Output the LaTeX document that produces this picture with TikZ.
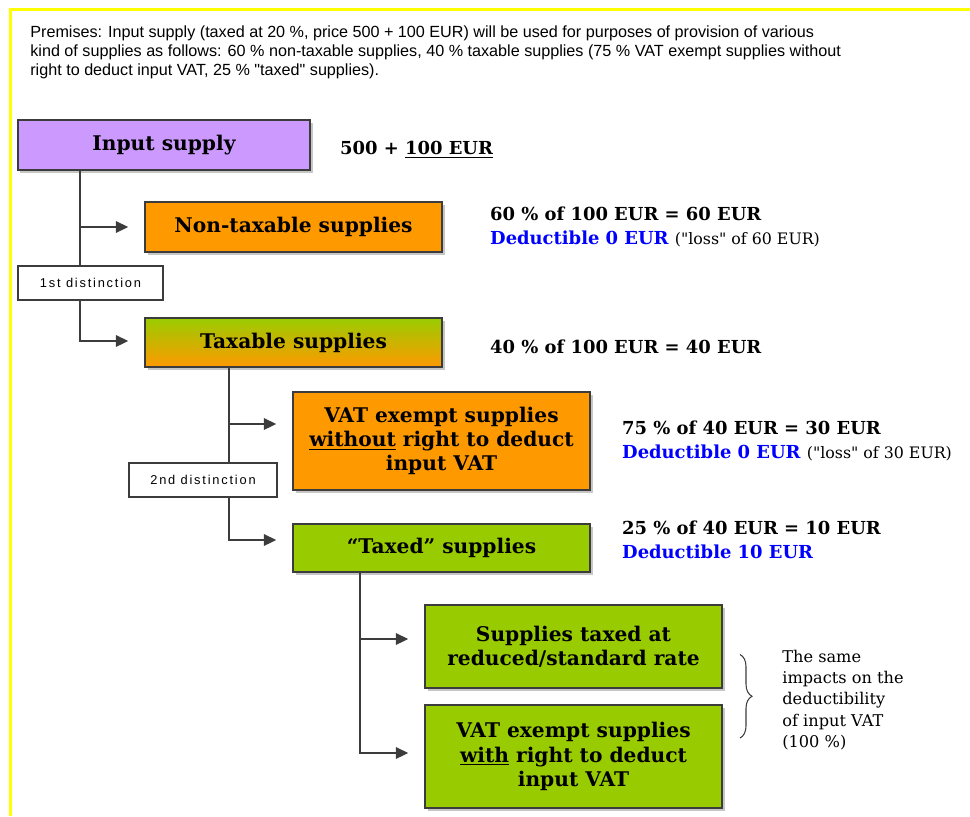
\documentclass[tikz,border=0pt]{standalone}
\usepackage{fontspec}
\setmainfont{DejaVu Serif}
\newfontfamily\premfont{Liberation Sans}
\newfontfamily\distfont[LetterSpace=14]{Liberation Sans}
\usepackage{tikz}
\usetikzlibrary{arrows.meta,positioning,shadows,decorations.pathreplacing}
\definecolor{vatpurple}{RGB}{204,153,255}
\definecolor{vatorange}{RGB}{255,153,0}
\definecolor{vatgreen}{RGB}{153,204,0}
\definecolor{vatblue}{RGB}{0,0,255}
\definecolor{vatyellow}{RGB}{255,255,0}
\definecolor{vatline}{RGB}{60,60,60}
\newcommand{\lossnote}[1]{{\mdseries\fontsize{9}{13.6}\selectfont(\textquotedbl loss\textquotedbl{} of #1)}}

\begin{document}
\begin{tikzpicture}[x=0.2mm,y=-0.2mm,
  box/.style={draw=vatline, line width=0.8pt, align=center, inner sep=1pt,
    font=\bfseries\fontsize{11.5}{13.8}\selectfont,
    drop shadow={shadow xshift=0.5mm, shadow yshift=-0.5mm, opacity=0.45}},
  distbox/.style={draw=vatline, line width=0.8pt, fill=white, inner sep=1pt,
    minimum height=6.8mm, font=\distfont\fontsize{7.3}{8}\selectfont},
  link/.style={draw=vatline, line width=1.1pt, -{Triangle[length=2.5mm,width=2.3mm]},
    shorten >=3.2mm},
  info/.style={anchor=west, align=left, font=\bfseries\fontsize{10.2}{13.6}\selectfont}]
\useasboundingbox (0,0) rectangle (970,816);
% Frame
\draw[vatyellow, line width=0.6mm] (970,9.5) -- (10.5,9.5) -- (10.5,816);
% Premises
\node[anchor=north west, align=left, inner sep=0pt,
  font=\premfont\fontsize{9.2}{10.8}\selectfont] (premises) at (30,25)
  {Premises: Input supply (taxed at 20 \%, price 500 + 100 EUR) will be used for purposes of provision of various\\
   kind of supplies as follows: 60 \% non-taxable supplies, 40 \% taxable supplies (75 \% VAT exempt supplies without\\
   right to deduct input VAT, 25 \% \textquotedbl taxed\textquotedbl{} supplies).};
% Boxes
\node[box, fill=vatpurple, minimum width=58.4mm, minimum height=10mm] (input) at (164,145) {Input supply};
\node[box, fill=vatorange, minimum width=59.4mm, minimum height=10mm] (nontax) at (293.5,227) {Non-taxable supplies};
\node[box, top color=vatgreen, bottom color=vatorange, minimum width=59.4mm, minimum height=9.8mm] (taxable) at (293.5,342.5) {Taxable supplies};
\node[box, fill=vatorange, minimum width=59.4mm, minimum height=19.6mm] (vatex) at (441.5,441)
  {VAT exempt supplies\\ \underline{without} right to deduct\\ input VAT};
\node[box, fill=vatgreen, minimum width=59.4mm, minimum height=9.6mm] (taxed) at (441.5,548) {``Taxed'' supplies};
\node[box, fill=vatgreen, minimum width=59.4mm, minimum height=16.6mm] (reduced) at (573.5,646.5)
  {Supplies taxed at\\ reduced/standard rate};
\node[box, fill=vatgreen, minimum width=59.4mm, minimum height=20.6mm] (withright) at (573.5,756.5)
  {VAT exempt supplies\\ \underline{with} right to deduct\\ input VAT};
% Trunks and arrow targets
\coordinate (trunkA) at (80,0);
\coordinate (trunkB) at (229,0);
\coordinate (trunkC) at (360,0);
\coordinate (ntIn) at (nontax.west);
\coordinate (txIn) at ([yshift=0.3mm]taxable.west);
\coordinate (veIn) at ([yshift=3.4mm]vatex.west);
\coordinate (tdIn) at ([yshift=1.6mm]taxed.west);
\coordinate (rdIn) at ([yshift=1.5mm]reduced.west);
\coordinate (wrIn) at ([yshift=0.7mm]withright.west);
\draw[link] (input.south -| trunkA) |- (txIn);
\draw[link] (trunkA |- ntIn) -- (ntIn);
\draw[link] (taxable.south -| trunkB) |- (tdIn);
\draw[link] (trunkB |- veIn) -- (veIn);
\draw[link] (taxed.south -| trunkC) |- (wrIn);
\draw[link] (trunkC |- rdIn) -- (rdIn);
% Distinctions
\node[distbox, minimum width=29mm] (dist1) at (90.5,283) {1st distinction};
\node[distbox, minimum width=29.6mm] (dist2) at (203,480) {2nd distinction};
% Amounts
\node[info] (cost) at (334,150) {500 + \underline{100 EUR}};
\node[info] (ntinfo) at (484,227) {60 \% of 100 EUR = 60 EUR\\
  {\color{vatblue}Deductible 0 EUR} \lossnote{60 EUR}};
\node[info] (txinfo) at (484,347) {40 \% of 100 EUR = 40 EUR};
\node[info] (veinfo) at (616,441) {75 \% of 40 EUR = 30 EUR\\
  {\color{vatblue}Deductible 0 EUR} \lossnote{30 EUR}};
\node[info] (tdinfo) at (616,540) {25 \% of 40 EUR = 10 EUR\\
  {\color{vatblue}Deductible 10 EUR}};
% Same impact
\draw[vatline, line width=0.6pt, decorate, decoration={brace, amplitude=2.4mm}]
  (reduced.east -| 740,0) ++(0,8) coordinate (braceTop) -- (740,738) coordinate (braceBot);
\node[anchor=west, align=left, inner sep=0pt, font=\fontsize{9.2}{12.2}\selectfont] (note) at (782,700)
  {The same\\ impacts on the\\ deductibility\\ of input VAT\\ (100 \%)};
\end{tikzpicture}
\end{document}
